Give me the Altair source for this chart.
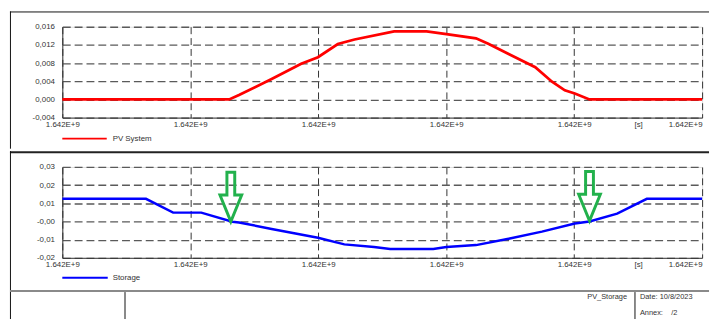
import altair as alt
import pandas as pd

# ---------------- data ----------------
series_names = ["PV System", "Storage"]

pv_t = [0.0, 1.304, 1.381, 1.636, 1.867, 1.998, 2.153, 2.284, 2.593, 2.847,
        3.002, 3.233, 3.333, 3.488, 3.696, 3.827, 3.927, 4.005, 4.120, 5.0]
pv_v = [0.0, 0.0, 0.00096, 0.0045, 0.00785, 0.0093, 0.0122, 0.0132, 0.0150, 0.0150,
        0.0144, 0.01345, 0.0122, 0.0100, 0.0071, 0.0039, 0.0020, 0.0013, 0.0, 0.0]

st_t = [0.0, 0.654, 0.866, 1.086, 1.329, 1.381, 1.636, 1.998, 2.204, 2.436, 2.562,
        2.899, 3.002, 3.233, 3.488, 3.748, 4.005, 4.120, 4.336, 4.568, 5.0]
st_v = [0.01246, 0.01246, 0.00488, 0.00488, -0.00016, -0.00054, -0.0041, -0.0090,
        -0.0126, -0.0141, -0.0152, -0.0152, -0.0141, -0.0130, -0.0095, -0.0056,
        -0.0011, 0.0, 0.0043, 0.01246, 0.01246]

arrow_t = [1.317, 4.120]
arrow_v = [-0.0004, 0.0]

x_tick_values = [0, 0.5, 1, 1.5, 2, 2.5, 3, 3.5, 4, 4.5, 5]
x_tick_label = "1.642E+9"
x_unit_label = "[s]"

y_top_values = [-0.004, 0.0, 0.004, 0.008, 0.012, 0.016]
y_top_labels = ["-0,004", "0,000", "0,004", "0,008", "0,012", "0,016"]
y_bot_values = [-0.02, -0.01, 0.0, 0.01, 0.02, 0.03]
y_bot_labels = ["-0,02", "-0,01", "-0,00", "0,01", "0,02", "0,03"]

footer_title = "PV_Storage"
footer_date = "Date: 10/8/2023"
footer_annex = "Annex:\u00a0\u00a0\u00a0\u00a0/2"

# ---------------- styling ----------------
W, H = 648, 92
FONT = "Liberation Sans"
GREEN = "#22B14C"
RIGHT = 655   # right end of frame lines (relative to plot origin)

pv_df = pd.DataFrame({"t": pv_t, "v": pv_v, "series": series_names[0]})
st_df = pd.DataFrame({"t": st_t, "v": st_v, "series": series_names[1]})
arrow_df = pd.DataFrame({"t": arrow_t, "v": arrow_v})
one = alt.Data(values=[{"k": 1}])


def js_list(vals):
    return "[" + ",".join(repr(v) if not isinstance(v, str) else "'" + v + "'" for v in vals) + "]"


x_label_expr = (
    f"datum.value === 4.5 ? '{x_unit_label}' : "
    f"(datum.value % 1 === 0 ? '{x_tick_label}' : '')"
)


def x_enc():
    return alt.X(
        "t:Q",
        scale=alt.Scale(domain=[0, 5], nice=False, zero=False),
        axis=alt.Axis(
            values=x_tick_values,
            labelExpr=x_label_expr,
            title=None,
            grid=True,
            gridOpacity={"condition": {"test": "datum.value % 1 === 0", "value": 1}, "value": 0},
            gridDash=[7, 4],
            gridColor="#333333",
            gridWidth=1,
            ticks=False,
            labelPadding=3,
            labelFontSize=8,
            labelFlush=False,
            labelOverlap=False,
            labelAlign={"condition": {"test": "datum.value === 5", "value": "right"}, "value": "center"},
            labelColor="#333333",
            labelFont=FONT,
            domainColor="#333333",
            domainWidth=1,
        ),
    )


def y_enc(values, labels, domain):
    expr = (f"indexof({js_list(values)}, datum.value) >= 0 ? "
            f"{js_list(labels)}[indexof({js_list(values)}, datum.value)] : "
            f"replace(format(datum.value, '.2f'), '.', ',')")
    return alt.Y(
        "v:Q",
        scale=alt.Scale(domain=domain, nice=False, zero=False),
        axis=alt.Axis(
            values=values,
            labelExpr=expr,
            title=None,
            grid=True,
            gridDash=[8, 4],
            gridColor="#5a5a5a",
            gridWidth=1.3,
            ticks=False,
            labelPadding=8,
            labelFontSize=8,
            labelOverlap=False,
            labelBound=False,
            labelColor="#333333",
            labelFont=FONT,
            domainColor="#333333",
            domainWidth=1,
        ),
    )


def hrule(y, x1, x2, color, width):
    return alt.Chart(one).mark_rule(color=color, strokeWidth=width).encode(
        x=alt.value(x1), x2=alt.value(x2), y=alt.value(y))


def vrule(x, y1, y2, color, width):
    return alt.Chart(one).mark_rule(color=color, strokeWidth=width).encode(
        x=alt.value(x), y=alt.value(y1), y2=alt.value(y2))


def label(x, y, txt, align="left", size=8):
    return alt.Chart(one).mark_text(
        text=txt, align=align, baseline="middle", fontSize=size, font=FONT, color="#333333"
    ).encode(x=alt.value(x), y=alt.value(y))


# ---------------- top panel ----------------
top_line = alt.Chart(pv_df).mark_line(color="#ff0000", strokeWidth=2.8).encode(
    x=x_enc(), y=y_enc(y_top_values, y_top_labels, [-0.004, 0.016]))

top = alt.layer(
    top_line,
    hrule(-15, -53, RIGHT, "#111111", 1),
    vrule(-52.5, -15.5, 123.5, "#111111", 1),
    hrule(113.3, 0, 45, "#ff0000", 2),
    label(51, 113.5, series_names[0]),
).properties(width=W, height=H)

# ---------------- bottom panel ----------------
arrow_path = "M -0.36 -4.6 L 0.36 -4.6 L 0.36 -2.5 L 1 -2.5 L 0 -0.05 L -1 -2.5 L -0.36 -2.5 Z"
bot_y = y_enc(y_bot_values, y_bot_labels, [-0.02, 0.03])

bot_line = alt.Chart(st_df).mark_line(color="#0000ff", strokeWidth=2.5).encode(
    x=x_enc(), y=bot_y)

arrows = alt.Chart(arrow_df).mark_point(
    shape=arrow_path, size=484, filled=False, stroke=GREEN, strokeWidth=3,
    opacity=1, strokeJoin="miter"
).encode(x=x_enc(), y=bot_y)

bottom = alt.layer(
    bot_line,
    arrows,
    hrule(-15, -53, RIGHT, "#222222", 2),
    vrule(-52.5, -16, 154, "#111111", 1),
    hrule(112.3, 0, 46, "#0000ff", 2),
    label(51, 112.5, series_names[1]),
    hrule(125.7, -53, RIGHT, "#8a8a8a", 2),
    vrule(63.5, 126.7, 154, "#111111", 1),
    vrule(580, 126.7, 154, "#111111", 1),
    label(572, 132, footer_title, align="right", size=7.5),
    label(585, 132, footer_date, size=7.5),
    label(585, 148, footer_annex, size=7.5),
).properties(width=W, height=H)

chart = alt.vconcat(top, bottom, spacing=0).properties(
    padding={"left": 0, "top": 0, "right": 0, "bottom": 0},
).configure_view(stroke=None).configure(font=FONT)

chart.save("out.html", embed_options={"renderer": "svg", "actions": False})
